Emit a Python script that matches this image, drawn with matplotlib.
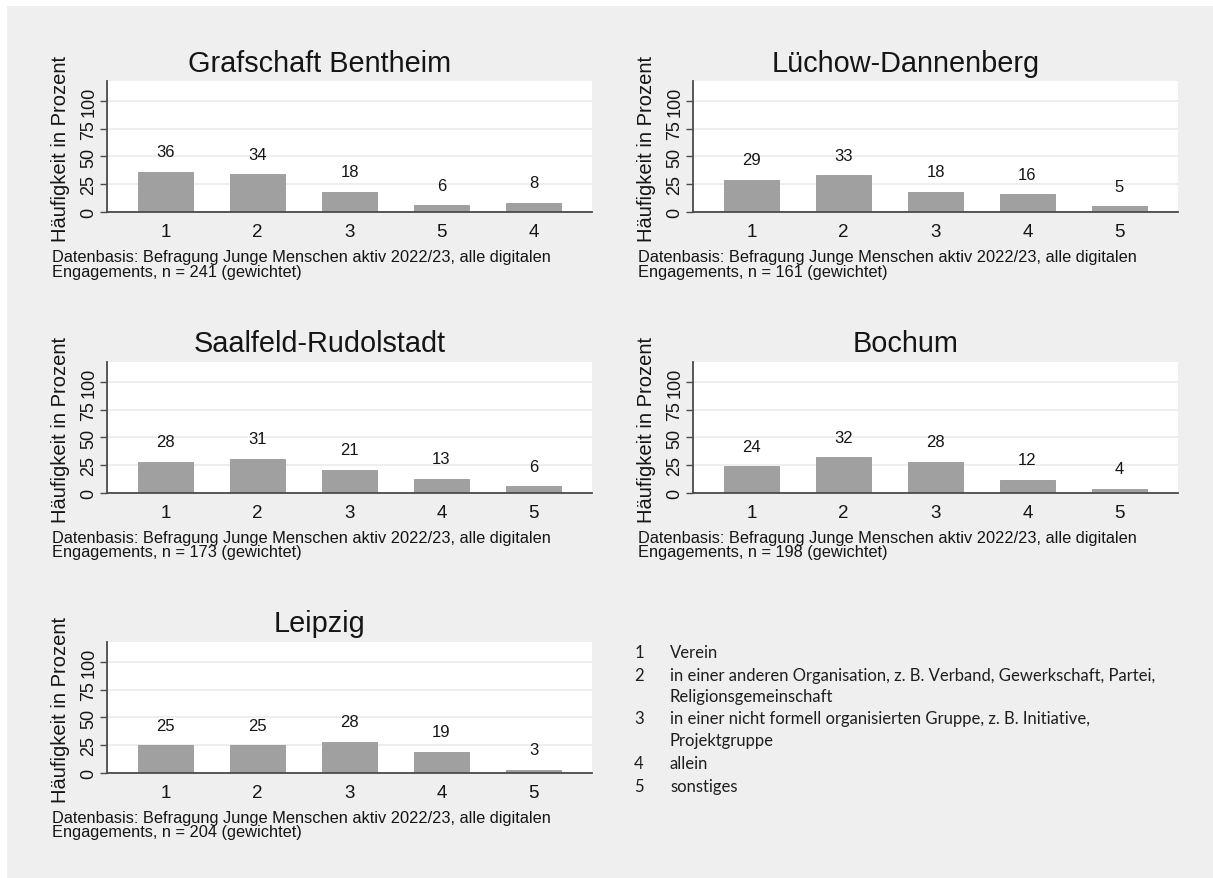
import matplotlib
matplotlib.use('Agg')
import matplotlib.pyplot as plt
from matplotlib.patches import Rectangle

# figure in pixels
W, H = 1213, 879

names = ['Grafschaft Bentheim', 'Lüchow-Dannenberg', 'Saalfeld-Rudolstadt', 'Bochum', 'Leipzig']
cats_gb = ['1', '2', '3', '5', '4']
cats_std = ['1', '2', '3', '4', '5']
vals_gb = [36, 34, 18, 6, 8]
vals_ld = [29, 33, 18, 16, 5]
vals_sr = [28, 31, 21, 13, 6]
vals_bo = [24, 32, 28, 12, 4]
vals_le = [25, 25, 28, 19, 3]
n_counts = [241, 161, 173, 198, 204]
yticks = [0, 25, 50, 75, 100]

legend_codes = ['1', '2', '', '3', '', '4', '5']
legend_texts = ['Verein',
                'in einer anderen Organisation, z. B. Verband, Gewerkschaft, Partei,',
                'Religionsgemeinschaft',
                'in einer nicht formell organisierten Gruppe, z. B. Initiative,',
                'Projektgruppe',
                'allein',
                'sonstiges']

panels = [(cats_gb, vals_gb), (cats_std, vals_ld), (cats_std, vals_sr),
          (cats_std, vals_bo), (cats_std, vals_le)]

# axes origin (left px, top px) for each panel
slots = [(107, 82), (693, 82), (107, 363), (693, 363), (107, 643)]
aw, ah = 485, 131


def fx(p):
    return p / W


def fy(p):
    return 1 - p / H


stata = 'Liberation Sans'
ink = '#151515'

fig = plt.figure(figsize=(W / 100, H / 100), dpi=100)
fig.patches.append(Rectangle((fx(7), 0), 1 - fx(7), fy(7), transform=fig.transFigure,
                             facecolor='#efefef', edgecolor='none', zorder=-10))

for k, ((cats, vals), (x0, top)) in enumerate(zip(panels, slots)):
    ax = fig.add_axes([fx(x0), fy(top + ah), aw / W, ah / H])
    pos = list(range(len(vals)))
    ax.bar(pos, vals, width=0.6, color='#a0a0a0', edgecolor='#989898', linewidth=0.6, zorder=2)
    for i, v in zip(pos, vals):
        ax.annotate(str(v), (i, v), xytext=(0, 14.5), textcoords='offset points',
                    ha='center', va='center', fontsize=12, family=stata, color=ink)
    ax.set_xlim(-0.636, 4.636)
    ax.set_ylim(0, 118)
    ax.set_xticks(pos, cats)
    ax.set_yticks(yticks)
    ax.grid(axis='y', color='#eaeaea', linewidth=1.1, zorder=0)
    ax.set_axisbelow(True)
    for s in ['top', 'right']:
        ax.spines[s].set_visible(False)
    for s in ['left', 'bottom']:
        ax.spines[s].set_color('#4a4a4a')
        ax.spines[s].set_linewidth(1.3)
    ax.tick_params(axis='x', length=0, pad=8, labelsize=13.5, labelcolor=ink)
    ax.tick_params(axis='y', length=5, width=1, color='#4a4a4a', pad=2, labelsize=13, labelcolor=ink)
    for lbl in ax.get_xticklabels() + ax.get_yticklabels():
        lbl.set_family(stata)
    for lbl in ax.get_yticklabels():
        lbl.set_rotation(90)
        lbl.set_va('center')

    fig.text(fx(x0 + aw / 2 - 30), fy(top - 18.5), names[k], ha='center', va='center',
             fontsize=20.8, family=stata, color=ink)
    fig.text(fx(x0 - 46), fy(top + ah / 2 + 1), 'Häufigkeit in Prozent', rotation=90,
             ha='center', va='center', fontsize=14.5, family=stata, color=ink)
    fig.text(fx(x0 - 55), fy(top + 176), 'Datenbasis: Befragung Junge Menschen aktiv 2022/23, alle digitalen',
             ha='left', va='center', fontsize=11.75, family=stata, color=ink)
    fig.text(fx(x0 - 55), fy(top + 190), f'Engagements, n = {n_counts[k]} (gewichtet)',
             ha='left', va='center', fontsize=11.75, family=stata, color=ink)

# legend block
leg_y = [653, 676, 697, 719, 741, 764, 787]
for code, txt, y in zip(legend_codes, legend_texts, leg_y):
    if code:
        fig.text(fx(639), fy(y), code, ha='center', va='center', fontsize=12, family='Lato', color='#1e1e1e')
    fig.text(fx(670), fy(y), txt, ha='left', va='center', fontsize=12, family='Lato', color='#1e1e1e')

fig.savefig('out.png', dpi=100, facecolor='white')
